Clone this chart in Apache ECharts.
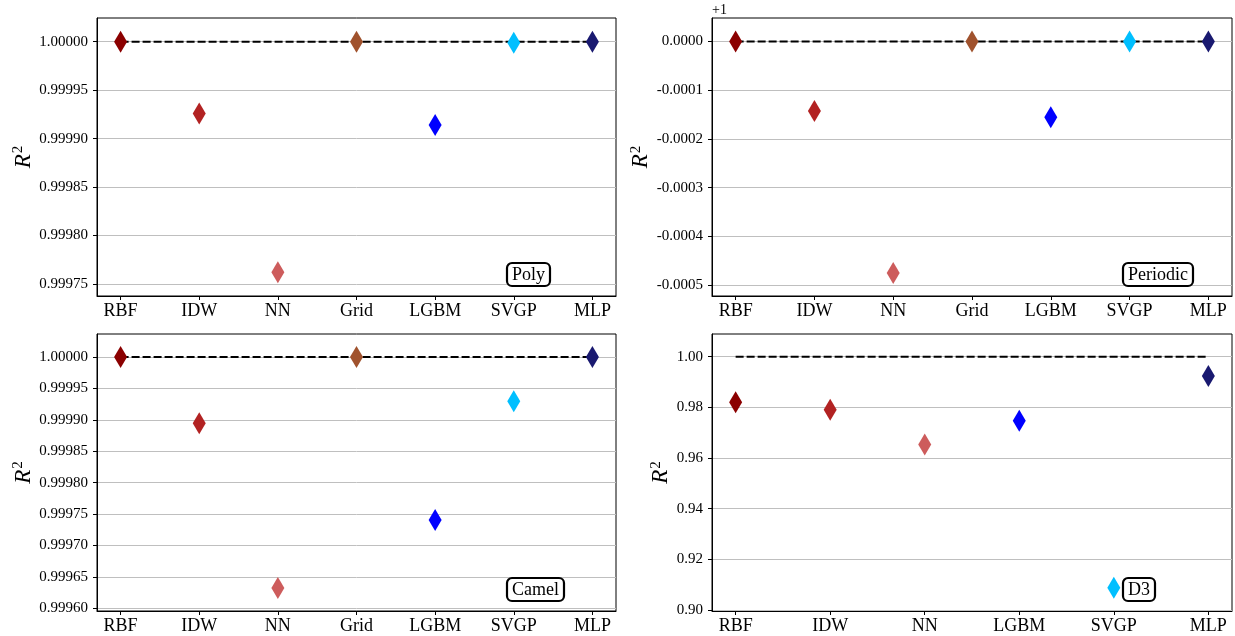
<!DOCTYPE html>
<html><head><meta charset="utf-8">
<script src="https://cdn.jsdelivr.net/npm/echarts@6/dist/echarts.min.js"></script>
<style>html,body{margin:0;padding:0;background:#fff}#c{width:1235px;height:636px}</style>
</head><body><div id="c"></div>
<script>
const methods = ['RBF', 'IDW', 'NN', 'Grid', 'LGBM', 'SVGP', 'MLP'];
const methodsD3 = ['RBF', 'IDW', 'NN', 'LGBM', 'SVGP', 'MLP'];
const polyR2 = [1.0, 0.999926, 0.999762, 1.0, 0.999914, 0.999999, 1.0];
const periodicR2 = [1.0, 0.9998576, 0.9995253, 1.0, 0.9998446, 1.0, 1.0];
const camelR2 = [1.0, 0.9998945, 0.9996323, 1.0, 0.9997405, 0.9999295, 1.0];
const d3R2 = [0.9820, 0.9791, 0.9653, 0.9747, 0.9088, 0.9924];
const polyTicks = [0.99975, 0.9998, 0.99985, 0.9999, 0.99995, 1.0];
const periodicTicks = [0.9995, 0.9996, 0.9997, 0.9998, 0.9999, 1.0];
const camelTicks = [0.9996, 0.99965, 0.9997, 0.99975, 0.9998, 0.99985, 0.9999, 0.99995, 1.0];
const d3Ticks = [0.90, 0.92, 0.94, 0.96, 0.98, 1.00];
const referenceR2 = 1.0;
const colorOf = {RBF: '#8b0000', IDW: '#b22222', NN: '#cd5c5c', Grid: '#a0522d', LGBM: '#0000ff', SVGP: '#00bfff', MLP: '#191970'};

const FONT = '"Liberation Serif", "DejaVu Serif", serif';

const panels = [
  {name: 'Poly', cats: methods, vals: polyR2, ticks: polyTicks, min: 0.9997376, max: 1.0000245,
   fmt: v => v.toFixed(5), grid: {left: 97, top: 18, width: 519, height: 278}, gap: 57, box: {left: 507, top: 263}},
  {name: 'Periodic', cats: methods, vals: periodicR2, ticks: periodicTicks, min: 0.999478, max: 1.0000481,
   fmt: v => (v - 1).toFixed(4), grid: {left: 712, top: 18, width: 520, height: 278}, gap: 55, box: {left: 1123, top: 263}},
  {name: 'Camel', cats: methods, vals: camelR2, ticks: camelTicks, min: 0.9995957, max: 1.0000366,
   fmt: v => v.toFixed(5), grid: {left: 97, top: 334, width: 519, height: 277}, gap: 57, box: {left: 507, top: 578}},
  {name: 'D3', cats: methodsD3, vals: d3R2, ticks: d3Ticks, min: 0.8996, max: 1.00896,
   fmt: v => v.toFixed(2), grid: {left: 712, top: 334, width: 520, height: 277}, gap: 36, box: {left: 1123, top: 578}}
];

const grid = [], xAxis = [], yAxis = [], series = [], title = [];
panels.forEach((p, k) => {
  const n = p.cats.length;
  const pad = 0.05 * (n - 1);
  const idx = p.cats.map((c, i) => i);
  grid.push(Object.assign({show: true, borderColor: '#000', borderWidth: 1, backgroundColor: 'transparent', containLabel: false}, p.grid));
  xAxis.push({
    gridIndex: k, type: 'value', min: -pad, max: n - 1 + pad,
    axisLine: {show: true, onZero: false, lineStyle: {color: '#000', width: 1}},
    axisTick: {show: true, customValues: idx, length: 4, lineStyle: {color: '#000'}},
    axisLabel: {customValues: idx, formatter: v => p.cats[Math.round(v)], color: '#000', fontFamily: FONT, fontSize: 18, margin: 6},
    splitLine: {show: false}
  });
  yAxis.push({
    gridIndex: k, type: 'value', min: p.min, max: p.max, scale: true,
    name: '{r|R}{s|2}', nameLocation: 'middle', nameRotate: 90, nameGap: p.gap,
    nameTextStyle: {rich: {
      r: {fontFamily: FONT, fontStyle: 'italic', fontSize: 23, color: '#000'},
      s: {fontFamily: FONT, fontSize: 15, color: '#000', padding: [0, 0, 11, 1]}
    }},
    axisLine: {show: true, onZero: false, lineStyle: {color: '#000', width: 1}},
    axisTick: {show: true, customValues: p.ticks, length: 4, lineStyle: {color: '#000'}},
    axisLabel: {customValues: p.ticks, formatter: p.fmt, color: '#000', fontFamily: FONT, fontSize: 15, margin: 9},
    splitLine: {show: true, lineStyle: {color: '#bfbfbf', width: 1}}
  });
  series.push({
    type: 'line', xAxisIndex: k, yAxisIndex: k, symbol: 'none', silent: true, z: 2,
    data: [[0, referenceR2], [n - 1, referenceR2]],
    lineStyle: {color: '#000', width: 2, type: [8, 3]}
  });
  series.push({
    type: 'scatter', xAxisIndex: k, yAxisIndex: k, symbol: 'diamond', symbolSize: [13, 22], z: 3,
    itemStyle: {opacity: 1},
    data: p.vals.map((v, i) => ({value: [i, v], itemStyle: {color: colorOf[p.cats[i]], opacity: 1}}))
  });
  title.push({
    text: p.name, left: p.box.left, top: p.box.top,
    padding: [3, 5, 2, 5], borderColor: '#000', borderWidth: 2.2, borderRadius: 5, backgroundColor: '#fff',
    textStyle: {fontFamily: FONT, fontSize: 18, fontWeight: 'normal', color: '#000'}
  });
});

const chart = echarts.init(document.getElementById('c'), null, {renderer: 'canvas'});
chart.setOption({
  backgroundColor: '#fff',
  animation: false,
  title, grid, xAxis, yAxis, series,
  graphic: [{type: 'text', left: 712, top: 3, style: {text: '+1', font: '14px ' + FONT, fill: '#000'}}]
});
</script></body></html>
